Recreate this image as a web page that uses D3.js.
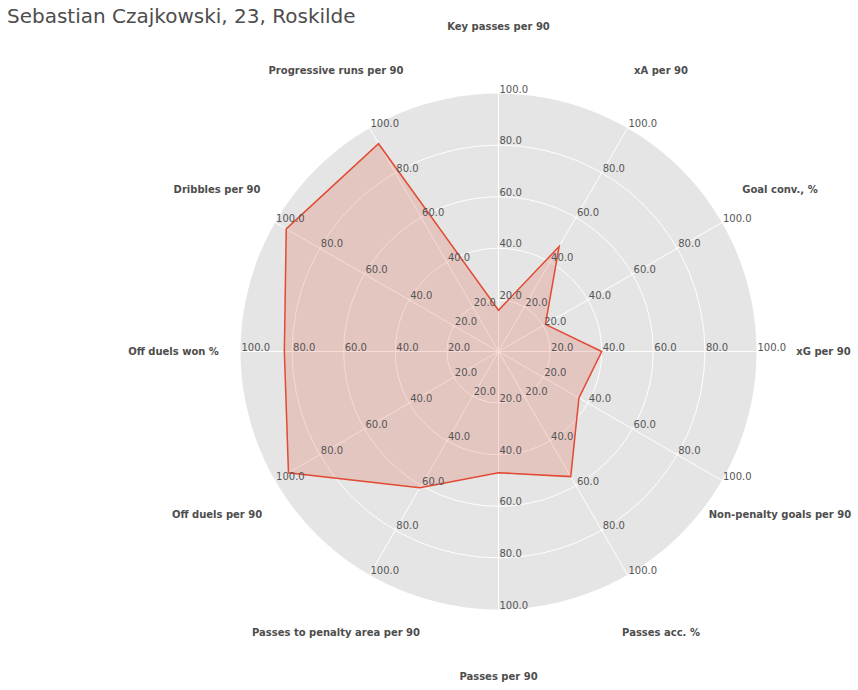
<!DOCTYPE html>
<html>
<head>
<meta charset="utf-8">
<script src="https://cdn.jsdelivr.net/npm/d3@7"></script>
<style>
  html, body { margin: 0; padding: 0; background: #fff; }
  svg { display: block; font-family: "DejaVu Sans", sans-serif; }
</style>
</head>
<body>
<svg id="chart" width="858" height="690"></svg>
<script>
// Categories in counter-clockwise order, starting from the east (3 o'clock)
const categories = [
  "xG per 90",
  "Goal conv., %",
  "xA per 90",
  "Key passes per 90",
  "Progressive runs per 90",
  "Dribbles per 90",
  "Off duels won %",
  "Off duels per 90",
  "Passes to penalty area per 90",
  "Passes per 90",
  "Passes acc. %",
  "Non-penalty goals per 90"
];
const values = [40, 21, 47, 16, 93, 95, 83, 94, 61, 47, 56, 36];
const tickValues = [20, 40, 60, 80, 100];
const titleText = "Sebastian Czajkowski, 23, Roskilde";

const W = 858, H = 690;
const cx = 498.5, cy = 351.5, R = 258, labelR = 325;

const svg = d3.select("#chart");
const g = svg.append("g").attr("transform", `translate(${cx},${cy})`);

const r = d3.scaleLinear().domain([0, 100]).range([0, R]);
const n = categories.length;
// theta: counter-clockwise from east (math convention)
const theta = d3.scaleLinear().domain([0, n]).range([0, 2 * Math.PI]);
const px = (i, v) => r(v) * Math.cos(theta(i));
const py = (i, v) => -r(v) * Math.sin(theta(i));

// background
g.append("circle").attr("r", r(100)).attr("fill", "#E5E5E5");

// grid circles
g.selectAll("circle.grid")
  .data(tickValues.filter(t => t < 100))
  .join("circle")
  .attr("class", "grid")
  .attr("r", d => r(d))
  .attr("fill", "none")
  .attr("stroke", "#ffffff")
  .attr("stroke-width", 1);

// spokes
g.selectAll("line.spoke")
  .data(categories)
  .join("line")
  .attr("class", "spoke")
  .attr("x1", 0).attr("y1", 0)
  .attr("x2", (d, i) => px(i, 100))
  .attr("y2", (d, i) => py(i, 100))
  .attr("stroke", "#ffffff")
  .attr("stroke-width", 1);

// data polygon via lineRadial (angle clockwise from north)
const radial = d3.lineRadial()
  .angle((d, i) => Math.PI / 2 - theta(i))
  .radius(d => r(d))
  .curve(d3.curveLinearClosed);

g.append("path")
  .datum(values)
  .attr("d", radial)
  .attr("fill", "#E24A33")
  .attr("fill-opacity", 0.2)
  .attr("stroke", "none");

g.append("path")
  .datum(values)
  .attr("d", radial)
  .attr("fill", "none")
  .attr("stroke", "#E24A33")
  .attr("stroke-width", 1.5)
  .attr("stroke-linejoin", "miter");

// tick labels on every axis
const fmt = d3.format(".1f");
const tickData = [];
categories.forEach((c, i) => tickValues.forEach(t => tickData.push({ i, t })));
g.selectAll("text.tick")
  .data(tickData)
  .join("text")
  .attr("class", "tick")
  .attr("x", d => px(d.i, d.t) + 1)
  .attr("y", d => py(d.i, d.t) - 1)
  .attr("font-size", 10)
  .attr("fill", "#555555")
  .text(d => fmt(d.t));

// category labels
g.selectAll("text.cat")
  .data(categories)
  .join("text")
  .attr("class", "cat")
  .attr("x", (d, i) => labelR * Math.cos(theta(i)))
  .attr("y", (d, i) => -labelR * Math.sin(theta(i)))
  .attr("dy", "0.35em")
  .attr("text-anchor", "middle")
  .attr("font-size", 10)
  .attr("font-weight", "bold")
  .attr("fill", "#4d4d4d")
  .text(d => d);

// title
svg.append("text")
  .attr("x", 7)
  .attr("y", 23)
  .attr("font-size", 20)
  .attr("fill", "#4d4d4d")
  .text(titleText);
</script>
</body>
</html>
